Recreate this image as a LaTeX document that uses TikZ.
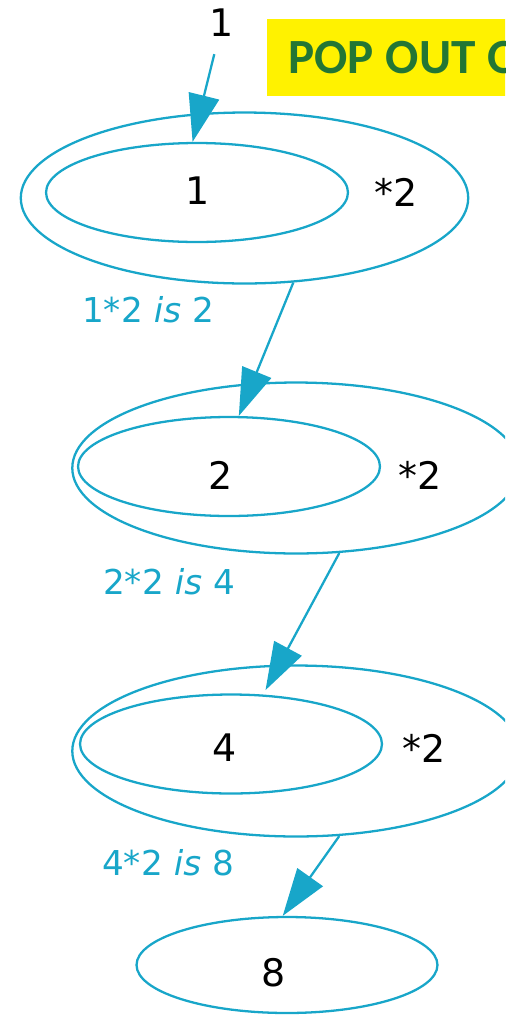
\documentclass[tikz,border=0pt]{standalone}
\usepackage{fontspec}
\setmainfont{DejaVu Sans}
\newfontfamily\popfont{Carlito}
\usepackage{tikz}
\usetikzlibrary{shapes.geometric, arrows.meta, positioning}
\definecolor{callblue}{RGB}{24,166,201}
\definecolor{popgreen}{RGB}{35,118,52}
\newcommand\popspace{\spaceskip=0.24em\relax}
\tikzstyle{outer} = [ellipse, 
draw=callblue, 
line width=1.3pt,
minimum width=8.95cm, 
minimum height=3.42cm,
inner sep=0pt]
\tikzstyle{inner} = [ellipse, 
draw=callblue, 
line width=1.3pt,
minimum width=6.04cm, 
minimum height=1.98cm,
inner sep=0pt]
\tikzstyle{num} = [font=\fontsize{21.6}{26}\selectfont,
inner sep=0pt]
\tikzstyle{calc} = [text=callblue,
font=\fontsize{19.5}{23}\selectfont,
inner sep=0pt]
\tikzstyle{banner} = [rectangle, 
fill=yellow,
text=popgreen,
font=\popfont\bfseries\fontsize{28}{32}\selectfont,
anchor=west,
minimum height=1.54cm,
text width=7cm,
inner xsep=0.42cm,
align=left]
\tikzstyle{call} = [->, draw=callblue, line width=1.3pt]

\begin{document}
\begin{tikzpicture}[x=0.02cm, y=-0.02cm, 
    >={Triangle[length=0.95cm, width=0.62cm]}
    ]
    \clip (0,0) rectangle (505,1015);
    
    \node (pop) [banner] at (267,57.5) {\popspace POP OUT O};
    
    \node (seed) [num] at (222,23) {1};
    
    % call frames
    \node (out1) [outer] at (244.5,198) {};
    \node (in1) [inner] at (197,192.5) {};
    \node (out2) [outer] at (296,468) {};
    \node (in2) [inner] at (229,466.5) {};
    \node (out3) [outer] at (296,751) {};
    \node (in3) [inner] at (231,744) {};
    \node (res) [inner, minimum width=6.02cm, minimum height=1.92cm] at (287,965) {};
    
    % values
    \node (v1) [num] at (198,191) {1};
    \node (v2) [num] at (221,475) {2};
    \node (v3) [num] at (225,748) {4};
    \node (v4) [num] at (274,973) {8};
    
    \node (x1) [num, right=0.5cm of in1] {*2};
    \node (x2) [num, right=0.34cm of in2, yshift=-0.18cm] {*2};
    \node (x3) [num, right=0.38cm of in3, yshift=-0.08cm] {*2};
    
    \node (c1) [calc] at (148,310) {1*2 \textit{is} 2};
    \node (c2) [calc] at (169,582) {2*2 \textit{is} 4};
    \node (c3) [calc] at (168,863) {4*2 \textit{is} 8};
    
    % arrows
    \draw[call, shorten <=0.35cm] (seed) -- (in1.95);
    \draw[call] (out1.-60) -- (in2.79);
    \draw[call, shorten >=0.1cm] (out2.-63) -- (in3.57);
    \draw[call] (out3.-63) -- (res.95);
    
\end{tikzpicture}
\end{document}
